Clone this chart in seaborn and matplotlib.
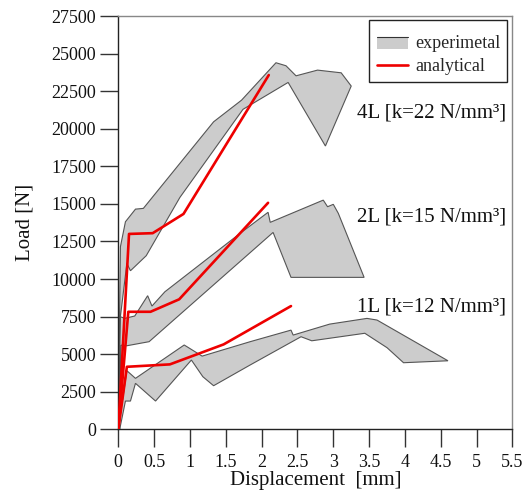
import numpy as np
import pandas as pd
import seaborn as sns
import matplotlib
matplotlib.use("Agg")
import matplotlib.pyplot as plt
from matplotlib.patches import Rectangle, Patch
from matplotlib.lines import Line2D
from matplotlib.legend_handler import HandlerBase

# ---- experimental envelopes (upper edge, then lower edge back to origin) ----
exp4_x = [0.0, 0.03, 0.10, 0.24, 0.35, 1.33, 1.72, 2.20, 2.34, 2.48, 2.78, 3.11, 3.25,
          2.89, 2.37, 1.74, 0.86, 0.39, 0.17, 0.12, 0.03, 0.02]
exp4_y = [0, 12150, 13810, 14650, 14700, 20460, 21900, 24390, 24190, 23520, 23900, 23720, 22840,
          18850, 23080, 21290, 15430, 11550, 10550, 11040, 7500, 0]

exp2_x = [0.0, 0.03, 0.09, 0.23, 0.41, 0.47, 0.65, 1.70, 2.09, 2.12, 2.86, 2.92, 3.00, 3.07, 3.43,
          2.41, 2.16, 0.43, 0.12, 0.04, 0.01]
exp2_y = [0, 7490, 7380, 7540, 8890, 8200, 9150, 13040, 14440, 13770, 15250, 14810, 14970, 14370, 10110,
          10110, 13100, 5830, 5560, 5600, 0]

exp1_x = [0.0, 0.12, 0.24, 0.92, 1.17, 1.84, 2.41, 2.44, 2.95, 3.47, 3.61, 4.60,
          3.98, 3.75, 3.44, 2.70, 2.55, 1.84, 1.33, 1.18, 1.02, 0.52, 0.24, 0.17, 0.10, 0.02]
exp1_y = [0, 3900, 3390, 5610, 4870, 5830, 6600, 6270, 7000, 7380, 7270, 4560,
          4430, 5430, 6390, 5890, 6160, 4280, 2900, 3500, 4610, 1880, 3060, 1880, 1880, 0]

# ---- analytical curves ----
ana4_x = [0.0, 0.15, 0.48, 0.91, 2.10]
ana4_y = [0, 13000, 13050, 14330, 23570]
ana2_x = [0.0, 0.14, 0.45, 0.85, 2.09]
ana2_y = [0, 7820, 7820, 8650, 15070]
ana1_x = [0.0, 0.12, 0.72, 1.47, 2.41]
ana1_y = [0, 4160, 4320, 5650, 8200]

labels = ["4L [k=22 N/mm³]", "2L [k=15 N/mm³]", "1L [k=12 N/mm³]"]
label_y = [21020, 14140, 8150]

x_ticks = [0, 0.5, 1, 1.5, 2, 2.5, 3, 3.5, 4, 4.5, 5, 5.5]
y_ticks = list(range(0, 27501, 2500))

sns.set_theme(style="white")
plt.rcParams["font.family"] = ["Liberation Serif", "DejaVu Serif"]

fig = plt.figure(figsize=(5.28, 4.97), dpi=100)
ax = fig.add_axes([0.224, 0.1362, 0.7466, 0.8316])

band_face = "#cccccc"
band_edge = "#555555"
for bx, by in [(exp4_x, exp4_y), (exp2_x, exp2_y), (exp1_x, exp1_y)]:
    ax.fill(bx, by, facecolor=band_face, edgecolor=band_edge, linewidth=0.8, zorder=2)

ana = pd.concat([
    pd.DataFrame({"disp": ana4_x, "load": ana4_y, "spec": "4L"}),
    pd.DataFrame({"disp": ana2_x, "load": ana2_y, "spec": "2L"}),
    pd.DataFrame({"disp": ana1_x, "load": ana1_y, "spec": "1L"}),
])
sns.lineplot(data=ana, x="disp", y="load", units="spec", estimator=None, sort=False,
             color="#ee0000", linewidth=1.9, ax=ax, zorder=3, legend=False)

for txt, yy in zip(labels, label_y):
    ax.text(5.41, yy, txt, ha="right", va="center", fontsize=15, color="#111111")

ax.set_xlim(0, 5.5)
ax.set_ylim(0, 27500)
ax.set_xticks(x_ticks)
ax.set_xticklabels([f"{v:g}" for v in x_ticks])
ax.set_yticks(y_ticks)
ax.set_yticklabels([str(v) for v in y_ticks])
ax.set_xticks(np.arange(0.25, 5.5, 0.5), minor=True)
ax.set_yticks(np.arange(1250, 27500, 2500), minor=True)
ax.tick_params(axis="both", which="major", direction="out", length=13, width=1,
               color="#333333", labelsize=13, labelcolor="#111111", pad=3)
ax.tick_params(axis="both", which="minor", direction="out", length=6.5, width=1, color="#333333")
ax.tick_params(bottom=True, left=True, top=False, right=False)
ax.tick_params(axis="x", pad=5)

for side in ["left", "bottom"]:
    ax.spines[side].set_color("#222222")
    ax.spines[side].set_linewidth(1.0)
for side in ["top", "right"]:
    ax.spines[side].set_color("#888888")
    ax.spines[side].set_linewidth(1.0)

ax.set_xlabel("Displacement  [mm]", fontsize=15, color="#111111")
ax.set_ylabel("Load [N]", fontsize=15, color="#111111")
ax.xaxis.set_label_coords(0.5, -0.101)
ax.yaxis.set_label_coords(-0.212, 0.5)


class BandHandler(HandlerBase):
    def create_artists(self, legend, orig_handle, xdescent, ydescent, width, height, fontsize, trans):
        r = Rectangle((-xdescent, -ydescent - 0.15 * height), width, height, facecolor=band_face,
                      edgecolor="none", transform=trans)
        top = Line2D([-xdescent, -xdescent + width], [-ydescent + 0.85 * height] * 2,
                     color="#333333", linewidth=0.8, transform=trans)
        return [r, top]


band_handle = Patch(facecolor=band_face)
red_handle = Line2D([], [], color="#ee0000", linewidth=1.9)
leg = ax.legend([band_handle, red_handle], ["experimetal", "analytical"],
                handler_map={Patch: BandHandler()},
                loc="upper right", bbox_to_anchor=(0.987, 0.990), borderaxespad=0,
                title=" ", title_fontsize=1,
                fontsize=13, frameon=True, fancybox=False, framealpha=1,
                edgecolor="#222222", handlelength=1.72, handleheight=0.66,
                handletextpad=0.4, borderpad=0.4, labelspacing=0.35)
leg.get_frame().set_linewidth(1.0)

fig.savefig("out.png", dpi=100)
